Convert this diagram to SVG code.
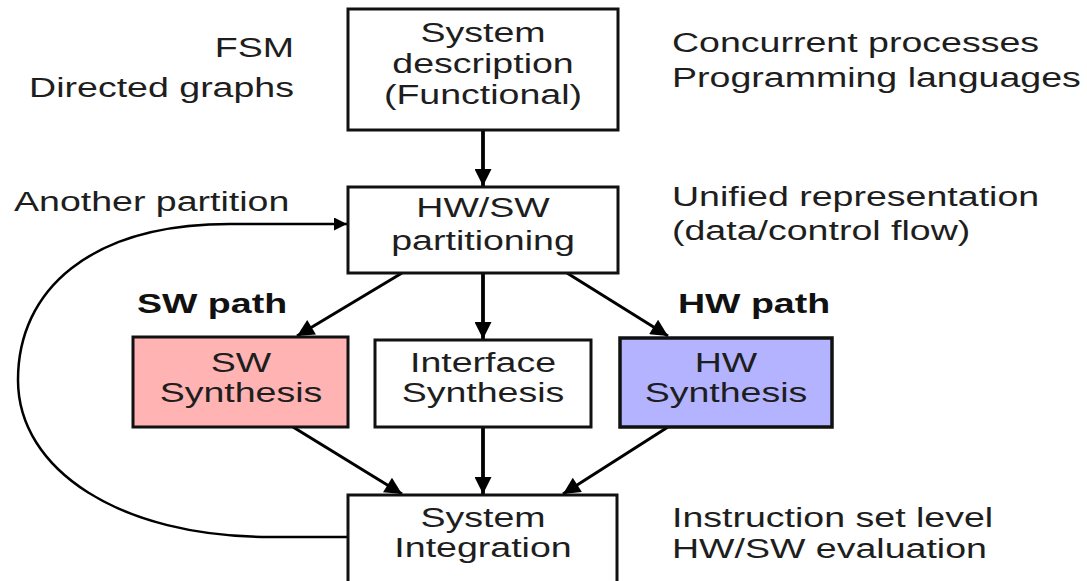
<svg xmlns="http://www.w3.org/2000/svg" width="1087" height="581" viewBox="0 0 1087 581">
<defs>
<style>
text{font-family:"Liberation Sans",Arial,sans-serif;font-size:27px;fill:#1e1e1e}
.b{font-weight:bold;fill:#111}
.m{text-anchor:middle}
.e{text-anchor:end}
.box{fill:#fff;stroke:#111;stroke-width:3}
.sw{fill:#ffb3b3}
.hw{fill:#b3b3ff;stroke-width:3.5}
.c{fill:none;stroke:#000;stroke-width:3;marker-end:url(#ah)}
.v{stroke-width:3.8}
.loop{fill:none;stroke:#000;stroke-width:2.5;marker-end:url(#ah2)}
</style>
<marker id="ah" viewBox="0 0 10 10" refX="10" refY="5" markerUnits="userSpaceOnUse" markerWidth="21" markerHeight="17" orient="auto">
<path d="M0,0 L10,5 L0,10 z" fill="#000"/>
</marker>
<marker id="ah2" viewBox="0 0 10 10" refX="10" refY="5" markerUnits="userSpaceOnUse" markerWidth="22" markerHeight="13" orient="auto">
<path d="M0,0 L10,5 L0,10 z" fill="#000"/>
</marker>
</defs>
<rect width="1087" height="581" fill="#fff"/>
<g id="connectors">
<path class="c v" d="M483,130 L483,186"/>
<path class="c" d="M402,273 L297,336"/>
<path class="c v" d="M483,273 L483,339"/>
<path class="c" d="M567,273 L668,336"/>
<path class="c" d="M293,427 L402,494"/>
<path class="c v" d="M483,427 L483,494"/>
<path class="c" d="M668,427 L563,494"/>
<path class="loop" d="M348,537 L270,537 C120,537 18,470 18,380 C18,290 90,224 230,224 L347,224"/>
</g>
<g id="n-sysdesc">
<rect class="box" x="348" y="9" width="270" height="121"/>
<text class="m" transform="translate(483,42) scale(1.39,1)">System</text>
<text class="m" transform="translate(483,73) scale(1.39,1)">description</text>
<text class="m" transform="translate(483,104) scale(1.39,1)">(Functional)</text>
</g>
<g id="n-partition">
<rect class="box" x="348" y="187" width="270" height="86"/>
<text class="m" transform="translate(483,217) scale(1.39,1)">HW/SW</text>
<text class="m" transform="translate(483,250) scale(1.39,1)">partitioning</text>
</g>
<g id="n-sw">
<rect class="box sw" x="133" y="337" width="215" height="90"/>
<text class="m" transform="translate(241,372) scale(1.39,1)">SW</text>
<text class="m" transform="translate(241,402) scale(1.39,1)">Synthesis</text>
</g>
<g id="n-if">
<rect class="box" x="375" y="340" width="216" height="87"/>
<text class="m" transform="translate(483,372) scale(1.39,1)">Interface</text>
<text class="m" transform="translate(483,402) scale(1.39,1)">Synthesis</text>
</g>
<g id="n-hw">
<rect class="box hw" x="620" y="338" width="212" height="89"/>
<text class="m" transform="translate(726,372) scale(1.39,1)">HW</text>
<text class="m" transform="translate(726,402) scale(1.39,1)">Synthesis</text>
</g>
<g id="n-integ">
<rect class="box" x="348" y="495" width="269" height="100"/>
<text class="m" transform="translate(483,527) scale(1.39,1)">System</text>
<text class="m" transform="translate(483,557) scale(1.39,1)">Integration</text>
</g>
<g id="labels">
<text class="e" transform="translate(294,57) scale(1.39,1)">FSM</text>
<text class="e" transform="translate(294,97) scale(1.39,1)">Directed graphs</text>
<text transform="translate(672,52) scale(1.39,1)">Concurrent processes</text>
<text transform="translate(672,87) scale(1.39,1)">Programming languages</text>
<text transform="translate(14,211) scale(1.39,1)">Another partition</text>
<text transform="translate(672,206) scale(1.39,1)">Unified representation</text>
<text transform="translate(672,240) scale(1.39,1)">(data/control flow)</text>
<text class="b" transform="translate(137,313) scale(1.39,1)">SW path</text>
<text class="b" transform="translate(678,313) scale(1.39,1)">HW path</text>
<text transform="translate(672,527) scale(1.39,1)">Instruction set level</text>
<text transform="translate(672,558) scale(1.39,1)">HW/SW evaluation</text>
</g>
</svg>
